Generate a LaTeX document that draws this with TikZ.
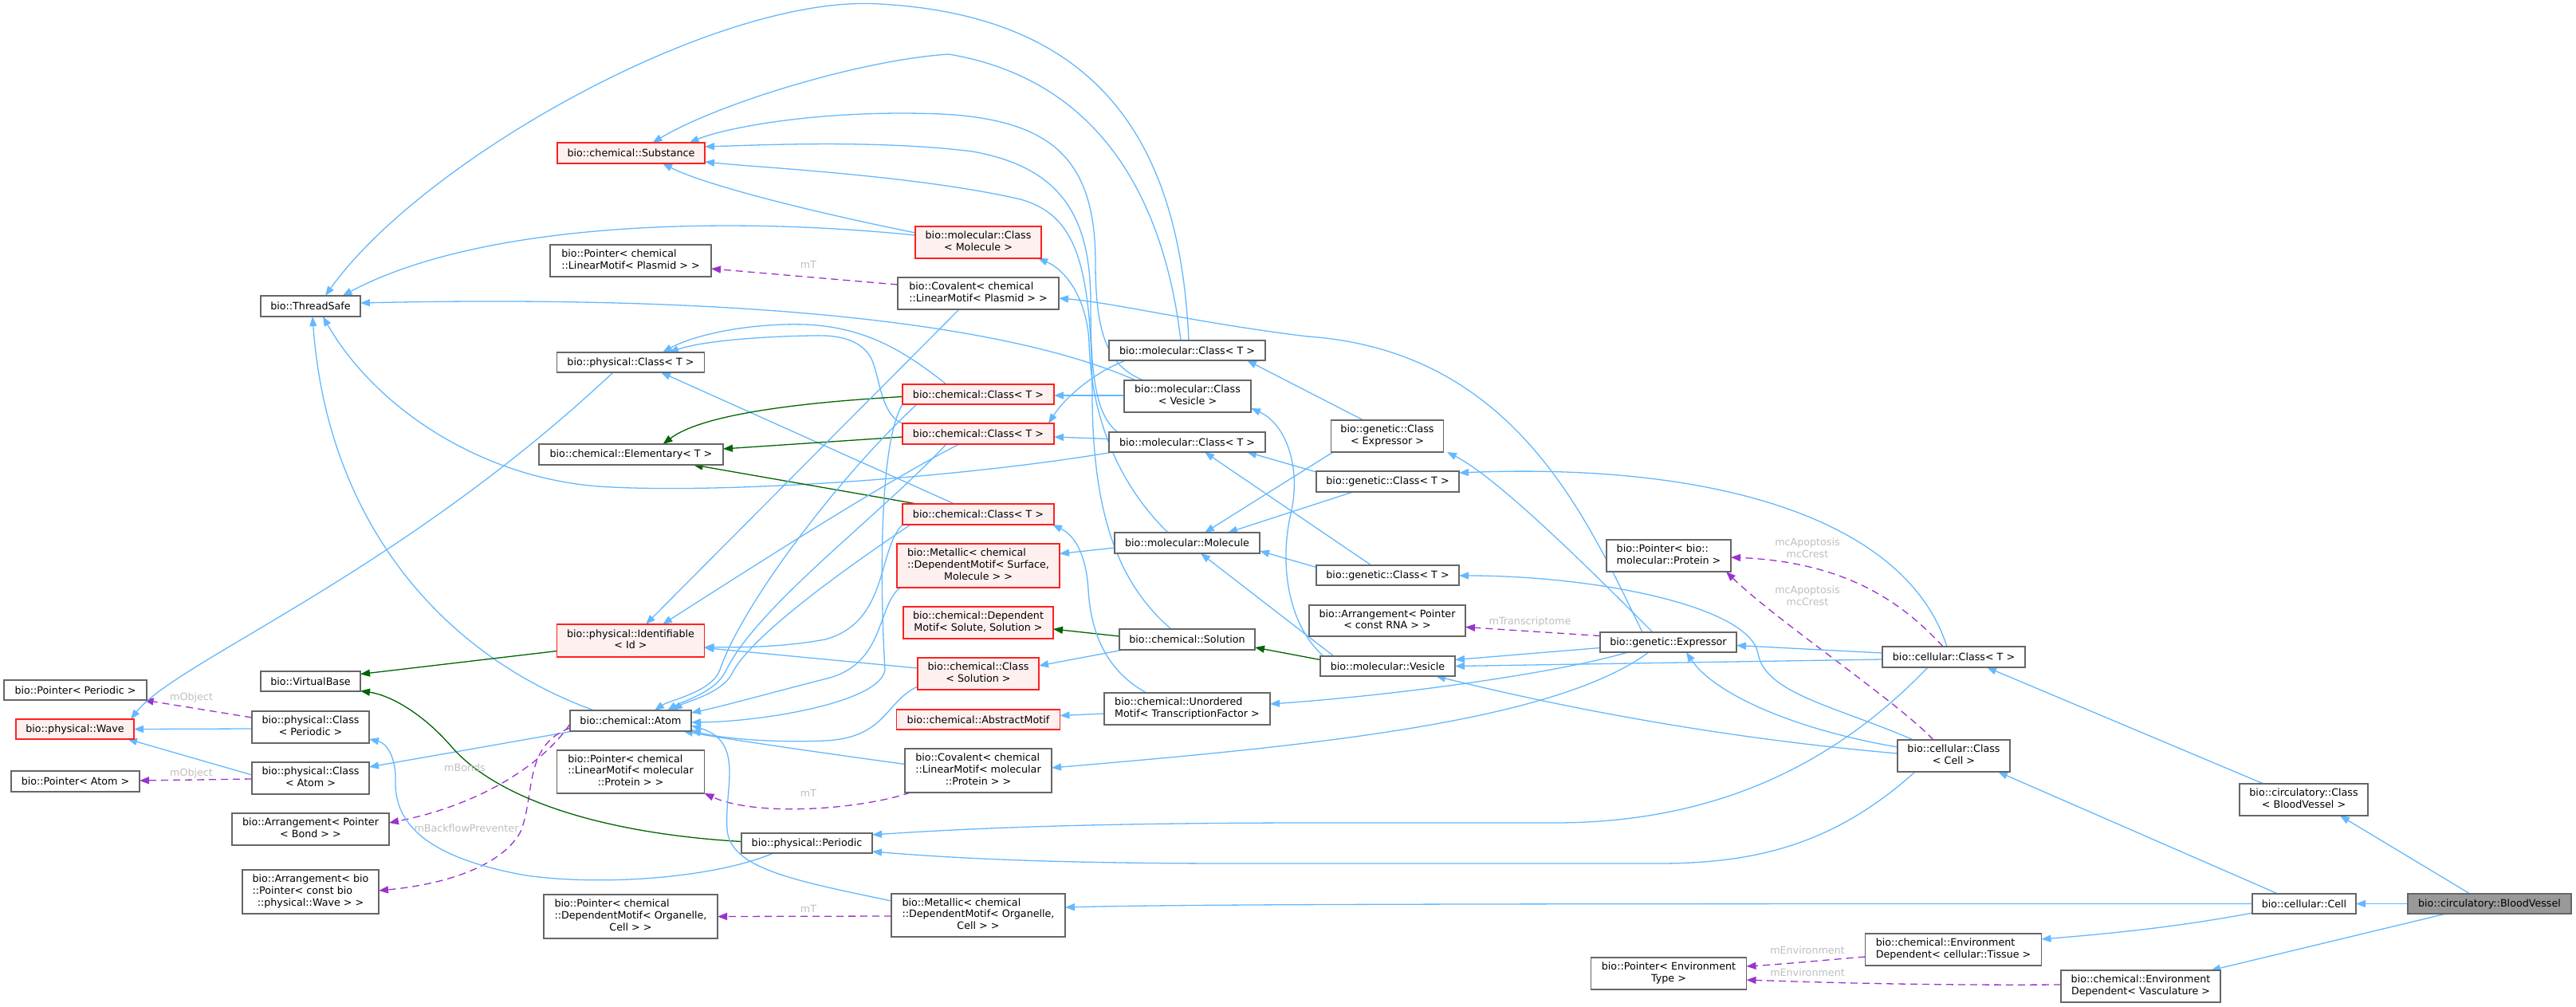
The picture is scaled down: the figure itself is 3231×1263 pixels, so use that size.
\documentclass[tikz,border=0pt]{standalone}
\usepackage{fontspec}
\setmainfont{DejaVu Sans}
\usetikzlibrary{arrows.meta,calc,backgrounds}
\definecolor{inhblue}{HTML}{63B8FF}
\definecolor{inhgreen}{HTML}{006400}
\definecolor{usepurple}{HTML}{9A32CD}
\definecolor{boxgray}{HTML}{666666}
\definecolor{lblgray}{HTML}{BEBEBE}
\definecolor{redfill}{HTML}{FFF0F0}
\definecolor{redline}{HTML}{FF2020}
\definecolor{selfill}{HTML}{999999}
\newcommand\nodefont{\fontsize{12.7pt}{14.7pt}\selectfont}
\newcommand\lft[1]{\multicolumn{1}{@{}l@{}}{#1}}
\newcommand\twoL[2]{\begin{tabular}{@{}c@{}}\lft{#1}\\#2\end{tabular}}
\newcommand\threeL[3]{\begin{tabular}{@{}c@{}}\lft{#1}\\\lft{#2}\\#3\end{tabular}}
\begin{document}
\begin{tikzpicture}[x=1pt,y=-1pt,
  box/.style={draw=boxgray,line width=1.3pt,fill=white,inner sep=0pt,font=\nodefont},
  rbox/.style={box,draw=redline,fill=redfill},
  gbox/.style={box,fill=selfill},
  inh/.style={draw=inhblue,line width=1.3pt,-{Triangle[length=12pt,width=9pt]}},
  prot/.style={draw=inhgreen,line width=1.3pt,-{Triangle[length=12pt,width=9pt]}},
  use/.style={draw=usepurple,line width=1.3pt,dash pattern=on 9pt off 6pt,-{Triangle[length=12pt,width=9pt]}},
  lbl/.style={text=lblgray,font=\nodefont,inner sep=0pt,align=center}]
\useasboundingbox (0,0) rectangle (3231,1263);

% ---------- nodes ----------
\node[box,minimum width=125pt,minimum height=26pt] (ts) at (389.5,384) {bio::ThreadSafe};
\node[rbox,minimum width=185pt,minimum height=26pt] (subst) at (791.5,192) {bio::chemical::Substance};
\node[box,minimum width=202pt,minimum height=40pt] (ptrpla) at (791,327) {\twoL{bio::Pointer< chemical}{::LinearMotif< Plasmid > >}};
\node[rbox,minimum width=158pt,minimum height=40pt] (mcmol) at (1227,304) {\twoL{bio::molecular::Class}{< Molecule >}};
\node[box,minimum width=202pt,minimum height=40pt] (covpla) at (1227,368) {\twoL{bio::Covalent< chemical}{::LinearMotif< Plasmid > >}};
\node[box,minimum width=196pt,minimum height=25pt] (mct1) at (1489,439.5) {bio::molecular::Class< T >};
\node[box,minimum width=159pt,minimum height=40pt] (mcves) at (1489.5,497) {\twoL{bio::molecular::Class}{< Vesicle >}};
\node[box,minimum width=196pt,minimum height=25pt] (mct2) at (1489,554.5) {bio::molecular::Class< T >};
\node[rbox,minimum width=190pt,minimum height=25pt] (cc1) at (1227,494.5) {bio::chemical::Class< T >};
\node[rbox,minimum width=190pt,minimum height=26pt] (cc2) at (1227,544) {bio::chemical::Class< T >};
\node[rbox,minimum width=190pt,minimum height=26pt] (cc3) at (1227,645) {bio::chemical::Class< T >};
\node[rbox,minimum width=204pt,minimum height=55pt] (metsurf) at (1227,709.5) {\threeL{bio::Metallic< chemical}{::DependentMotif< Surface,}{Molecule > >}};
\node[rbox,minimum width=188pt,minimum height=40pt] (depmot) at (1227,781) {\twoL{bio::chemical::Dependent}{Motif< Solute, Solution >}};
\node[rbox,minimum width=152pt,minimum height=40pt] (ccsol) at (1227,845) {\twoL{bio::chemical::Class}{< Solution >}};
\node[box,minimum width=182pt,minimum height=26pt] (molec) at (1489,681) {bio::molecular::Molecule};
\node[box,minimum width=170pt,minimum height=26pt] (soln) at (1489,802) {bio::chemical::Solution};
\node[rbox,minimum width=205pt,minimum height=25pt] (absmot) at (1227,902.5) {bio::chemical::AbstractMotif};
\node[box,minimum width=208pt,minimum height=40pt] (unord) at (1489,889) {\twoL{bio::chemical::Unordered}{Motif< TranscriptionFactor >}};
\node[box,minimum width=184pt,minimum height=55pt] (covpro) at (1227,966.5) {\threeL{bio::Covalent< chemical}{::LinearMotif< molecular}{::Protein > >}};
\node[box,minimum width=164pt,minimum height=25pt] (period) at (1012,1057.5) {bio::physical::Periodic};
\node[box,minimum width=218pt,minimum height=54pt] (metorg) at (1227,1148) {\threeL{bio::Metallic< chemical}{::DependentMotif< Organelle,}{Cell > >}};
\node[box,minimum width=218pt,minimum height=55pt] (ptrorg) at (791,1149.5) {\threeL{bio::Pointer< chemical}{::DependentMotif< Organelle,}{Cell > >}};
\node[box,minimum width=185pt,minimum height=54pt] (ptrpro) at (791,968) {\threeL{bio::Pointer< chemical}{::LinearMotif< molecular}{::Protein > >}};
\node[box,minimum width=152pt,minimum height=26pt] (atom) at (791,904) {bio::chemical::Atom};
\node[rbox,minimum width=185pt,minimum height=41pt] (ident) at (791,803.5) {\twoL{bio::physical::Identifiable}{< Id >}};
\node[box,minimum width=125pt,minimum height=25pt] (vbase) at (389.5,854.5) {bio::VirtualBase};
\node[box,minimum width=185pt,minimum height=25pt] (pct) at (791,454.5) {bio::physical::Class< T >};
\node[box,minimum width=231pt,minimum height=26pt] (elem) at (791.5,570) {bio::chemical::Elementary< T >};
\node[box,minimum width=179pt,minimum height=25pt] (ptrper) at (94.5,865.5) {bio::Pointer< Periodic >};
\node[rbox,minimum width=148pt,minimum height=25pt] (wave) at (94,914.5) {bio::physical::Wave};
\node[box,minimum width=161pt,minimum height=26pt] (ptratom) at (94.5,980) {bio::Pointer< Atom >};
\node[box,minimum width=147pt,minimum height=40pt] (pcper) at (389.5,912) {\twoL{bio::physical::Class}{< Periodic >}};
\node[box,minimum width=147pt,minimum height=40pt] (pcatom) at (389.5,976) {\twoL{bio::physical::Class}{< Atom >}};
\node[box,minimum width=197pt,minimum height=40pt] (arrbond) at (389.5,1040) {\twoL{bio::Arrangement< Pointer}{< Bond > >}};
\node[box,minimum width=171pt,minimum height=55pt] (arrwave) at (389.5,1118.5) {\threeL{bio::Arrangement< bio}{::Pointer< const bio}{::physical::Wave > >}};
\node[box,minimum width=141pt,minimum height=40pt] (gcexp) at (1740,547) {\twoL{bio::genetic::Class}{< Expressor >}};
\node[box,minimum width=179pt,minimum height=26pt] (gct1) at (1740.5,604) {bio::genetic::Class< T >};
\node[box,minimum width=179pt,minimum height=25pt] (gct2) at (1740.5,721.5) {bio::genetic::Class< T >};
\node[box,minimum width=196pt,minimum height=39pt] (arrrna) at (1740,778.5) {\twoL{bio::Arrangement< Pointer}{< const RNA > >}};
\node[box,minimum width=169pt,minimum height=25pt] (ves) at (1740.5,835.5) {bio::molecular::Vesicle};
\node[box,minimum width=171pt,minimum height=25pt] (expr) at (2092.5,805.5) {bio::genetic::Expressor};
\node[box,minimum width=156pt,minimum height=40pt] (ptrmp) at (2093,697) {\twoL{bio::Pointer< bio::}{molecular::Protein >}};
\node[box,minimum width=179pt,minimum height=26pt] (cellt) at (2450.5,824) {bio::cellular::Class< T >};
\node[box,minimum width=141pt,minimum height=40pt] (cellc) at (2450.5,948) {\twoL{bio::cellular::Class}{< Cell >}};
\node[box,minimum width=161pt,minimum height=40pt] (circ) at (2889.5,1003) {\twoL{bio::circulatory::Class}{< BloodVessel >}};
\node[box,minimum width=130pt,minimum height=25pt] (cell) at (2890,1133.5) {bio::cellular::Cell};
\node[gbox,minimum width=205pt,minimum height=25pt] (bv) at (3122.5,1133.5) {bio::circulatory::BloodVessel};
\node[box,minimum width=221pt,minimum height=40pt] (envt) at (2450,1191) {\twoL{bio::chemical::Environment}{Dependent< cellular::Tissue >}};
\node[box,minimum width=200pt,minimum height=40pt] (envv) at (2685,1237) {\twoL{bio::chemical::Environment}{Dependent< Vasculature >}};
\node[box,minimum width=195pt,minimum height=40pt] (ptrenv) at (2093,1221) {\twoL{bio::Pointer< Environment}{Type >}};

% ---------- labels ----------
\node[lbl] (l1) at (2267,1192) {mEnvironment};
\node[lbl] (l2) at (2267,1220) {mEnvironment};
\node[lbl] (l3) at (2267,687) {mcApoptosis\\mcCrest};
\node[lbl] (l4) at (2267,747) {mcApoptosis\\mcCrest};
\node[lbl] (l5) at (1919,780) {mTranscriptome};
\node[lbl] (l6) at (1014,332) {mT};
\node[lbl] (l7) at (1014,995) {mT};
\node[lbl] (l8) at (1014,1140) {mT};
\node[lbl] (l9) at (240,875) {mObject};
\node[lbl] (l10) at (240,970) {mObject};
\node[lbl] (l11) at (583,963) {mBonds};
\node[lbl] (l12) at (585,1039) {mBackflowPreventer};

% ---------- edges ----------
\begin{scope}[on background layer]
\draw[inh] ($(bv)+(-24.5,-12.5)$) -- ($(circ)+(45.5,20)$);
\draw[inh] ($(bv)+(-102.5,0)$) -- ($(cell)+(65,0)$);
\draw[inh] ($(bv)+(-54.5,12.5)$) -- ($(envv)+(88,-20)$);
\draw[inh] ($(circ)+(-50.5,-20)$) -- ($(cellt)+(41.5,13)$);
\draw[inh] ($(cell)+(-33,-12.5)$) -- ($(cellc)+(55.5,20)$);
\draw[inh] ($(cell)+(-65,11.5)$) .. controls (2720,1165) and (2620,1173) .. ($(envt)+(110.5,-13)$);
\draw[inh] ($(cell)+(-65,0)$) .. controls (2000,1133.5) and (1500,1133.5) .. ($(metorg)+(109,-10)$);
\draw[use] ($(envt)+(-110.5,9)$) .. controls (2290,1204) and (2240,1209) .. ($(ptrenv)+(97.5,-9)$);
\draw[use] ($(envv)+(-100,-2)$) .. controls (2400,1236) and (2280,1232) .. ($(ptrenv)+(97.5,8)$);
\draw[use] ($(cellc)+(-25.5,-20)$) .. controls (2380,880) and (2230,780) .. ($(ptrmp)+(72,20)$);
\draw[use] ($(cellt)+(-13.5,-13)$) .. controls (2390,760) and (2320,705) .. ($(ptrmp)+(78,2)$);
\draw[inh] ($(cellt)+(-8.5,-13)$) .. controls (2390,650) and (2150,580) .. ($(gct1)+(89.5,-11)$);
\draw[inh] ($(cellt)+(-89.5,-5)$) -- ($(expr)+(85.5,4)$);
\draw[inh] ($(cellt)+(-89.5,3)$) -- ($(ves)+(84.5,0)$);
\draw[inh] ($(cellt)+(-32.5,13)$) .. controls (2300,960) and (2150,1032) .. (1950,1032) -- (1650,1032) .. controls (1350,1032) and (1200,1040) .. ($(period)+(82,-10.5)$);
\draw[inh] ($(cellc)+(-48.5,20)$) .. controls (2300,1060) and (2200,1083) .. (2080,1083) -- (1550,1083) .. controls (1300,1083) and (1180,1075) .. ($(period)+(82,10.5)$);
\draw[inh] ($(cellc)+(-50.5,-20)$) .. controls (2300,885) and (2215,870) .. (2205,820) .. controls (2195,760) and (2000,722) .. ($(gct2)+(89.5,0.5)$);
\draw[inh] ($(cellc)+(-70.5,-11)$) .. controls (2250,915) and (2150,870) .. ($(expr)+(22.5,12.5)$);
\draw[inh] ($(cellc)+(-70.5,-3)$) .. controls (2150,925) and (1950,885) .. ($(ves)+(60.5,12.5)$);
\draw[use] ($(expr)+(-85.5,-8)$) -- ($(arrrna)+(98,8)$);
\draw[inh] ($(expr)+(-85.5,7)$) -- ($(ves)+(84.5,-8)$);
\draw[inh] ($(expr)+(-50.5,12.5)$) .. controls (1950,845) and (1750,872) .. ($(unord)+(104,-6)$);
\draw[inh] ($(expr)+(-24.5,12.5)$) .. controls (1950,905) and (1650,935) .. ($(covpro)+(92,-3.5)$);
\draw[inh] ($(expr)+(-19.5,-12.5)$) .. controls (2000,720) and (1880,600) .. ($(gcexp)+(75,20)$);
\draw[inh] ($(expr)+(-32.5,-12.5)$) .. controls (1990,650) and (1900,440) .. (1640,422) .. controls (1500,405) and (1400,380) .. ($(covpla)+(101,6)$);
\draw[inh] ($(gcexp)+(-30,-20)$) -- ($(mct1)+(75,12.5)$);
\draw[inh] ($(gcexp)+(-68,20)$) -- ($(molec)+(22,-13)$);
\draw[inh] ($(gct1)+(-89.5,-12)$) -- ($(mct2)+(75,12.5)$);
\draw[inh] ($(gct1)+(-43.5,13)$) -- ($(molec)+(51,-13)$);
\draw[inh] ($(gct2)+(-20.5,-12.5)$) -- ($(mct2)+(22,12.5)$);
\draw[inh] ($(gct2)+(-89.5,-10)$) -- ($(molec)+(91,10)$);
\draw[inh] ($(ves)+(-67.5,-12.5)$) -- ($(molec)+(17,13)$);
\draw[prot] ($(ves)+(-84.5,-8)$) -- ($(soln)+(85,10)$);
\draw[inh] ($(ves)+(-80.5,-12.5)$) .. controls (1612,780) and (1605,700) .. (1620,640) .. controls (1632,580) and (1610,530) .. ($(mcves)+(79.5,15)$);
\draw[inh] ($(molec)+(-91,6)$) -- ($(metsurf)+(102,-15)$);
\draw[inh] ($(molec)+(-24,-13)$) .. controls (1395,600) and (1368,510) .. (1366,430) .. controls (1364,380) and (1340,340) .. ($(mcmol)+(75,20)$);
\draw[inh] ($(mcves)+(-55,-20)$) .. controls (1390,460) and (1374,420) .. (1374,330) .. controls (1374,200) and (1320,150) .. (1180,143) .. controls (1030,137) and (910,160) .. ($(subst)+(73,-13)$);
\draw[inh] ($(mct2)+(-87,-12.5)$) .. controls (1372,520) and (1368,460) .. (1368,380) .. controls (1368,270) and (1330,210) .. (1220,190) .. controls (1100,175) and (950,182) .. ($(subst)+(92.5,-8)$);
\draw[inh] ($(soln)+(-20,-13)$) .. controls (1400,730) and (1371,640) .. (1370,500) .. controls (1369,330) and (1350,270) .. (1280,250) .. controls (1150,220) and (950,210) .. ($(subst)+(92.5,11)$);
\draw[inh] ($(mct1)+(-8,-12.5)$) .. controls (1460,250) and (1380,100) .. (1190,68) .. controls (1080,75) and (900,130) .. ($(subst)+(27,-13)$);
\draw[inh] ($(mct1)+(2,-12.5)$) .. controls (1480,180) and (1380,20) .. (1103,5) .. controls (900,-8) and (530,200) .. ($(ts)+(18.5,-13)$);
\draw[inh] ($(mcmol)+(-79,-12)$) .. controls (1000,262) and (880,230) .. ($(subst)+(39.5,13)$);
\draw[inh] ($(mcmol)+(-79,-9)$) .. controls (900,270) and (600,280) .. ($(ts)+(40,-13)$);
\draw[inh] ($(mcves)+(-65,-20)$) .. controls (1250,400) and (900,370) .. ($(ts)+(62.5,-4)$);
\draw[inh] ($(mct2)+(-93,12.5)$) .. controls (1200,600) and (900,620) .. (750,610) .. controls (600,598) and (470,510) .. ($(ts)+(15.5,13)$);
\draw[inh] ($(atom)+(-46,-13)$) .. controls (550,820) and (410,650) .. ($(ts)+(2.5,13)$);
\draw[inh] ($(atom)+(-72,13)$) -- ($(pcatom)+(73.5,-14)$);
\draw[use] ($(atom)+(-76,4)$) .. controls (680,960) and (600,1010) .. ($(arrbond)+(98.5,-8)$);
\draw[use] ($(atom)+(-76,9)$) .. controls (655,935) and (672,1000) .. (652,1045) .. controls (625,1090) and (550,1110) .. ($(arrwave)+(85.5,-1.5)$);
\draw[prot] ($(period)+(-82,-2)$) .. controls (750,1045) and (620,1000) .. (565,935) .. controls (530,895) and (490,872) .. ($(vbase)+(62.5,12)$);
\draw[inh] ($(period)+(-42,12.5)$) .. controls (900,1100) and (760,1112) .. (660,1098) .. controls (530,1075) and (495,1030) .. (496,980) .. controls (497,950) and (485,932) .. ($(pcper)+(73.5,15)$);
\draw[prot] ($(ident)+(-92.5,13)$) -- ($(vbase)+(62.5,-9)$);
\draw[inh] ($(pcper)+(-73.5,2)$) -- ($(wave)+(74,0)$);
\draw[inh] ($(pcatom)+(-73.5,-4)$) -- ($(wave)+(66,12.5)$);
\draw[use] ($(pcper)+(-73.5,-12)$) -- ($(ptrper)+(86,12.5)$);
\draw[use] ($(pcatom)+(-73.5,1)$) -- ($(ptratom)+(80.5,-1)$);
\draw[inh] ($(pct)+(-22,12.5)$) .. controls (500,720) and (220,830) .. ($(wave)+(70,-12.5)$);
\draw[inh] ($(cc1)+(-40,-12.5)$) .. controls (1140,445) and (1090,410) .. (1009,407) .. controls (940,405) and (870,420) .. ($(pct)+(40,-12.5)$);
\draw[inh] ($(cc2)+(-92,-12)$) .. controls (1105,525) and (1103,470) .. (1093,450) .. controls (1080,425) and (1050,420) .. (1020,421) .. controls (950,422) and (880,428) .. ($(pct)+(48,-12.5)$);
\draw[inh] ($(cc3)+(-30,-13)$) -- ($(pct)+(38,12.5)$);
\draw[prot] ($(cc1)+(-95,3)$) .. controls (1000,505) and (880,520) .. ($(elem)+(40,-13)$);
\draw[prot] ($(cc2)+(-95,4)$) -- ($(elem)+(115.5,-7)$);
\draw[prot] ($(cc3)+(-77,-13)$) -- ($(elem)+(78,13)$);
\draw[inh] ($(mct1)+(-77,12.5)$) .. controls (1370,468) and (1335,500) .. ($(cc2)+(88,-13)$);
\draw[inh] ($(mcves)+(-79.5,-1)$) -- ($(cc1)+(95,1.5)$);
\draw[inh] ($(mct2)+(-98,-4)$) -- ($(cc2)+(95,4)$);
\draw[prot] ($(soln)+(-85,-4)$) -- ($(depmot)+(94,8)$);
\draw[inh] ($(soln)+(-80,13)$) -- ($(ccsol)+(76,-10)$);
\draw[inh] ($(unord)+(-104,6)$) -- ($(absmot)+(102.5,-5)$);
\draw[inh] ($(unord)+(-51,-20)$) .. controls (1385,840) and (1368,790) .. (1365,740) .. controls (1362,690) and (1345,670) .. ($(cc3)+(93,13)$);
\draw[inh] ($(covpro)+(-92,-8)$) .. controls (1000,940) and (900,925) .. ($(atom)+(66,13)$);
\draw[use] ($(covpro)+(-85,27.5)$) .. controls (1080,1015) and (950,1025) .. ($(ptrpro)+(92.5,27)$);
\draw[use] ($(metorg)+(-109,1)$) -- ($(ptrorg)+(109,0)$);
\draw[inh] ($(metorg)+(-109,-18)$) .. controls (1000,1105) and (915,1090) .. (912,1040) .. controls (908,990) and (935,930) .. ($(atom)+(76,6)$);
\draw[use] ($(covpla)+(-101,-11)$) -- ($(ptrpla)+(101,10)$);
\draw[inh] ($(covpla)+(-24,20)$) -- ($(ident)+(19,-20.5)$);
\draw[inh] ($(cc2)+(-24,13)$) .. controls (1100,610) and (930,720) .. ($(ident)+(40,-20.5)$);
\draw[inh] ($(ccsol)+(-76,-7)$) -- ($(ident)+(92.5,9)$);
\draw[inh] ($(cc3)+(-95,13)$) .. controls (1100,690) and (1115,780) .. (1035,802) .. controls (980,812) and (930,812) .. ($(ident)+(92.5,8)$);
\draw[inh] ($(cc1)+(-77,12.5)$) .. controls (1050,600) and (930,760) .. (903,840) .. controls (893,868) and (840,878) .. ($(atom)+(30,-13)$);
\draw[inh] ($(cc2)+(-40,13)$) .. controls (1100,650) and (950,760) .. (910,842) .. controls (898,868) and (855,880) .. ($(atom)+(46,-13)$);
\draw[inh] ($(cc3)+(-85,13)$) .. controls (1050,720) and (940,800) .. (918,845) .. controls (905,870) and (860,880) .. ($(atom)+(53,-13)$);
\draw[inh] ($(metsurf)+(-98,27.5)$) .. controls (1100,760) and (1110,830) .. (1041,850) .. controls (970,868) and (910,885) .. ($(atom)+(76,-10)$);
\draw[inh] ($(ccsol)+(-76,16)$) .. controls (1110,880) and (1112,925) .. (1035,929) .. controls (960,932) and (900,925) .. ($(atom)+(76,12)$);
\draw[inh] ($(cc1)+(-95,12.5)$) .. controls (1100,560) and (1105,760) .. (1110,840) .. controls (1105,880) and (960,905) .. ($(atom)+(76,2)$);
\end{scope}
\end{tikzpicture}
\end{document}
